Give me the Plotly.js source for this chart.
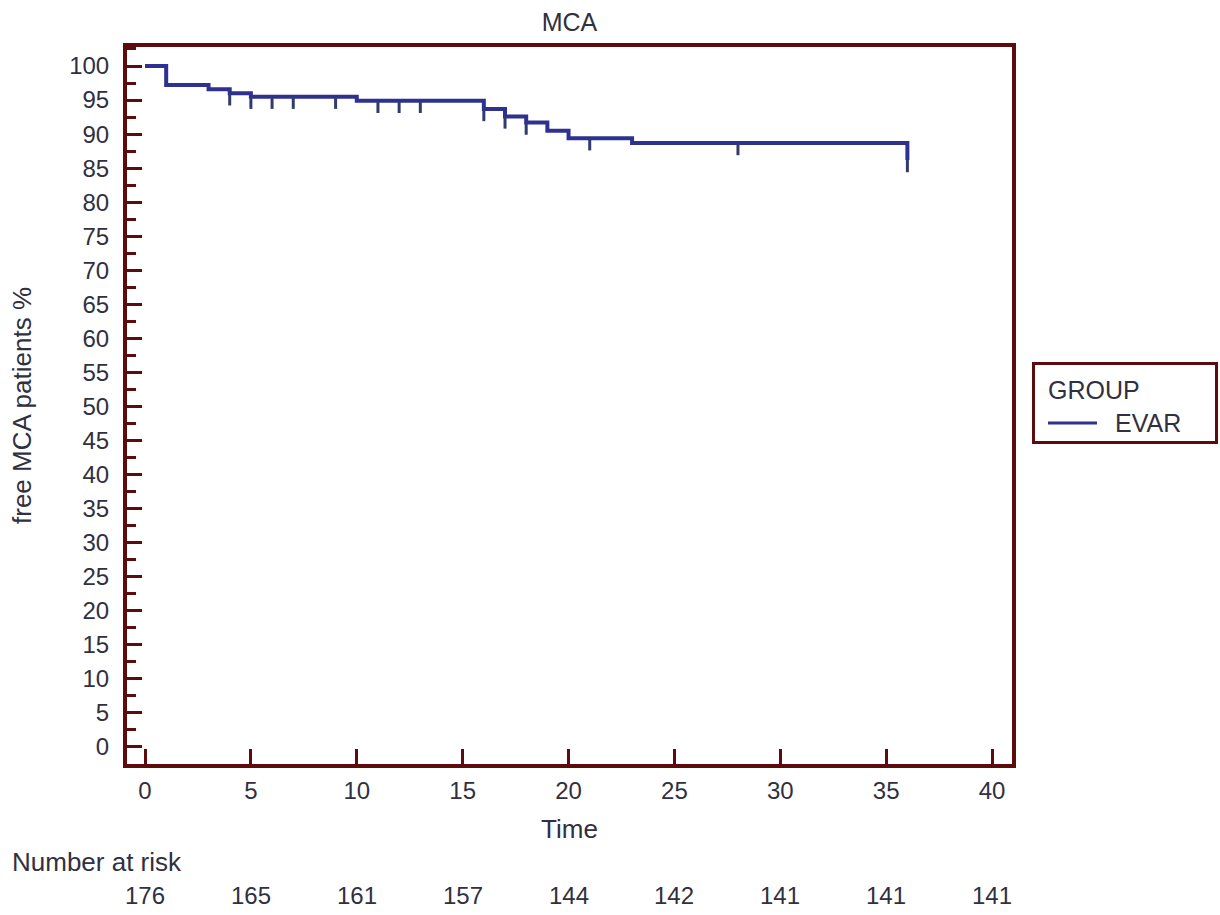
<!DOCTYPE html>
<html>
<head>
<meta charset="utf-8">
<script src="https://cdn.plot.ly/plotly-3.0.1.min.js"></script>
<style>
  html, body { margin: 0; padding: 0; background: #ffffff; }
  #chart { width: 1220px; height: 915px; }
</style>
</head>
<body>
<div id="chart"></div>
<script>
// Kaplan-Meier estimate: event times (months) and survival (%) after each step
const stepTimes = [0, 1, 3, 4, 5, 10, 16, 17, 18, 19, 20, 23, 36];
const stepSurvival = [100, 97.2, 96.6, 96.0, 95.5, 94.9, 93.7, 92.6, 91.7, 90.5, 89.4, 88.7, 86.2];

// Censored observations
const censorTimes = [4, 5, 6, 7, 9, 11, 12, 13, 16, 17, 18, 21, 28, 36];

// Number at risk below the time axis
const riskTimes = [0, 5, 10, 15, 20, 25, 30, 35, 40];
const riskCounts = [176, 165, 161, 157, 144, 142, 141, 141, 141];

const legendTitle = 'GROUP';
const groupName = 'EVAR';

// survival value of the step function at time t
function survivalAt(t) {
  let s = stepSurvival[0];
  for (let i = 0; i < stepTimes.length; i++) {
    if (stepTimes[i] <= t) s = stepSurvival[i];
  }
  return s;
}

const curveColor = '#2e3190';
const frameColor = '#5e0b0e';
const textColor = '#30303f';
const family = 'Liberation Sans, Arial, sans-serif';
const tickFont = { family: family, size: 24, color: textColor };
const wordFont = { family: family, size: 26, color: textColor };
const keyFont = { family: family, size: 25, color: textColor };

const curve = {
  x: stepTimes,
  y: stepSurvival,
  type: 'scatter',
  mode: 'lines',
  line: { shape: 'hv', color: curveColor, width: 4 },
  name: groupName,
  showlegend: false,
  hoverinfo: 'x+y'
};

// censor marks hang below the curve
const censor = {
  x: censorTimes,
  y: censorTimes.map(survivalAt),
  type: 'scatter',
  mode: 'markers',
  marker: { size: 1, color: 'rgba(0,0,0,0)' },
  error_y: {
    type: 'constant', symmetric: false, value: 0, valueminus: 1.8,
    width: 0, thickness: 3, color: '#333a6e'
  },
  showlegend: false,
  hoverinfo: 'skip'
};

// plot area in page pixels
const plotLeft = 127, plotRight = 1012, plotTop = 47, plotBottom = 764;
const plotW = plotRight - plotLeft, plotH = plotBottom - plotTop;
const px = x => (x - plotLeft) / plotW;
const py = y => (plotBottom - y) / plotH;

const riskAnnotations = riskTimes.map((t, i) => ({
  x: t, xref: 'x', y: py(895), yref: 'paper', yanchor: 'middle',
  text: String(riskCounts[i]), showarrow: false, font: tickFont
}));

// legend box drawn as shapes and text beside the plot
const legendShapes = [
  {
    type: 'rect', xref: 'paper', yref: 'paper',
    x0: px(1033.5), x1: px(1216.5), y0: py(442.5), y1: py(363.5),
    line: { color: frameColor, width: 3 }, fillcolor: '#ffffff'
  },
  {
    type: 'line', xref: 'paper', yref: 'paper',
    x0: px(1048), x1: px(1097), y0: py(423), y1: py(423),
    line: { color: curveColor, width: 3 }
  }
];
const legendAnnotations = [
  {
    x: px(1046), xref: 'paper', xanchor: 'left', y: py(390), yref: 'paper', yanchor: 'middle',
    text: legendTitle, showarrow: false, font: keyFont
  },
  {
    x: px(1113), xref: 'paper', xanchor: 'left', y: py(423), yref: 'paper', yanchor: 'middle',
    text: groupName, showarrow: false, font: keyFont
  }
];

const layout = {
  width: 1220,
  height: 915,
  paper_bgcolor: '#ffffff',
  plot_bgcolor: '#ffffff',
  font: tickFont,
  showlegend: false,
  margin: { l: plotLeft, r: 1220 - plotRight, t: plotTop, b: 915 - plotBottom },
  title: {
    text: 'MCA', font: keyFont,
    x: 0.5, xref: 'paper', y: 1 - 22 / 915, yref: 'container', yanchor: 'middle'
  },
  xaxis: {
    range: [-0.85, 40.94],
    tickmode: 'linear', tick0: 0, dtick: 5,
    ticks: 'inside', ticklen: 15, tickwidth: 3, tickcolor: frameColor,
    ticklabelstandoff: 2,
    showline: true, linecolor: frameColor, linewidth: 4, mirror: true,
    showgrid: false, zeroline: false,
    tickfont: tickFont,
    title: { text: 'Time', font: wordFont, standoff: 18 }
  },
  yaxis: {
    range: [-2.5, 102.79],
    tickmode: 'linear', tick0: 0, dtick: 5,
    ticks: 'inside', ticklen: 15, tickwidth: 3, tickcolor: frameColor,
    ticklabelstandoff: 9,
    minor: { dtick: 2.5, tick0: 0, ticks: 'inside', ticklen: 9, tickwidth: 3, tickcolor: frameColor, showgrid: false },
    showline: true, linecolor: frameColor, linewidth: 4, mirror: true,
    showgrid: false, zeroline: false,
    tickfont: tickFont,
    title: { text: 'free MCA patients %', font: wordFont, standoff: 31 }
  },
  shapes: legendShapes,
  annotations: [
    {
      x: px(10), xref: 'paper', xanchor: 'left',
      y: py(862), yref: 'paper', yanchor: 'middle',
      text: 'Number at risk', showarrow: false, font: wordFont
    }
  ].concat(riskAnnotations, legendAnnotations)
};

Plotly.newPlot('chart', [curve, censor], layout, { displayModeBar: false, staticPlot: true });
</script>
</body>
</html>
